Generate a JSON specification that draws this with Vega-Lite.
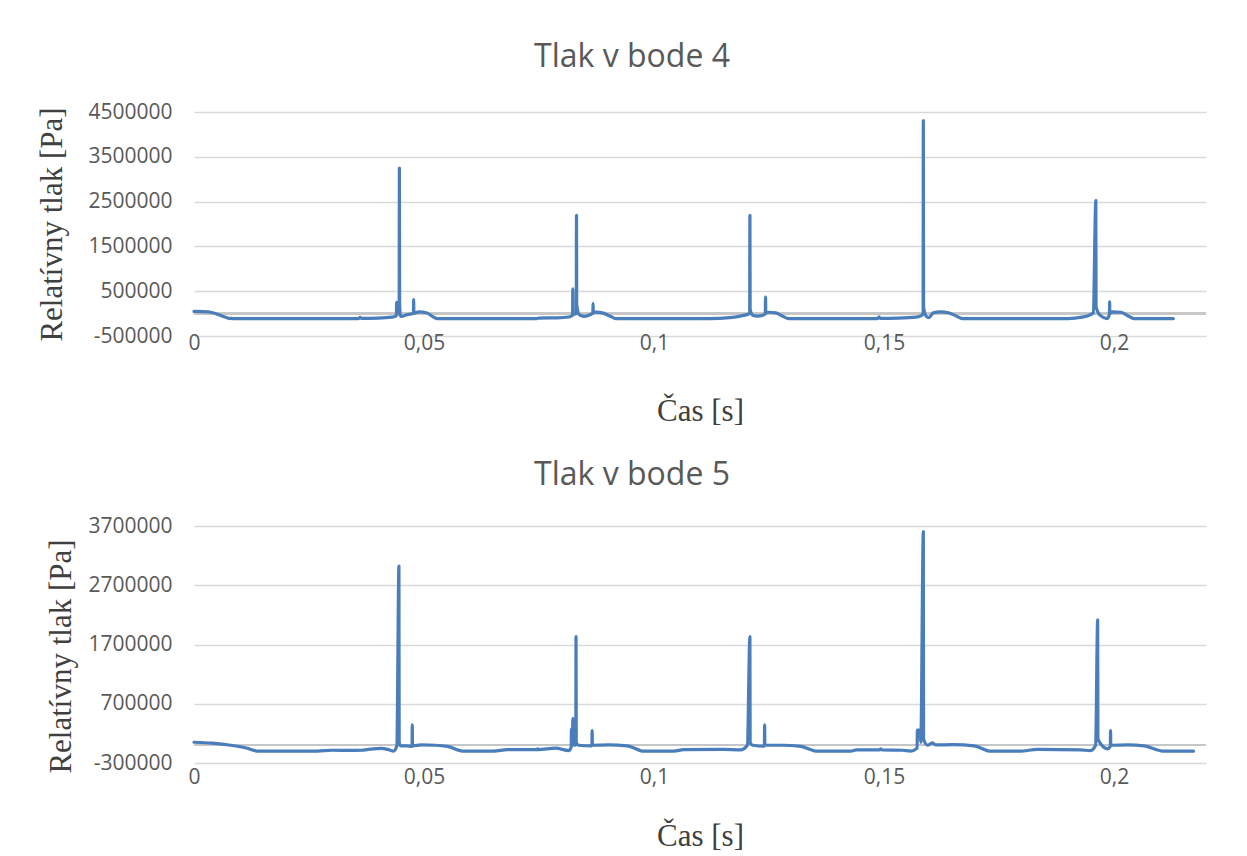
{
  "$schema": "https://vega.github.io/schema/vega-lite/v6.json",
  "background": "white",
  "padding": {"left": 36, "top": 41, "right": 5, "bottom": 5},
  "spacing": 33,
  "config": {
    "view": {"stroke": null},
    "axisX": {"grid": false, "domain": false, "ticks": false, "labelFlush": false, "labelFont": "Open Sans", "labelFontSize": 21, "labelColor": "#595959", "titleFont": "Liberation Serif", "titleFontSize": 31, "titleFontWeight": "normal", "titleColor": "#404040", "titleBaseline": "alphabetic"},
    "axisY": {"grid": true, "gridColor": "#d9d9d9", "gridWidth": 1.5, "domain": false, "ticks": false, "labelFont": "Open Sans", "labelFontSize": 21, "labelColor": "#595959", "labelPadding": 22, "titleFont": "Liberation Serif", "titleFontSize": 31, "titleFontWeight": "normal", "titleColor": "#404040", "titleBaseline": "alphabetic"}
  },
  "datasets": {
    "b4": [
      {"t": 0, "p": 50000}, {"t": 0.002, "p": 45000}, {"t": 0.0039, "p": 25000}, {"t": 0.0058, "p": -40000}, {"t": 0.0076, "p": -105000}, {"t": 0.010, "p": -110000},
      {"t": 0.0358, "p": -110000}, {"t": 0.0361, "p": -85000}, {"t": 0.0364, "p": -105000}, {"t": 0.040, "p": -100000}, {"t": 0.043, "p": -80000}, {"t": 0.0438, "p": -60000},
      {"t": 0.0440, "p": -30000}, {"t": 0.04405, "p": 250000}, {"t": 0.0441, "p": -10000}, {"t": 0.0446, "p": 10000}, {"t": 0.04465, "p": 3250000}, {"t": 0.0447, "p": 200000},
      {"t": 0.0449, "p": -60000}, {"t": 0.0452, "p": -60000}, {"t": 0.0465, "p": -20000}, {"t": 0.0477, "p": 0}, {"t": 0.04775, "p": 310000}, {"t": 0.0478, "p": 10000},
      {"t": 0.0489, "p": 40000}, {"t": 0.0505, "p": 20000}, {"t": 0.0518, "p": -60000}, {"t": 0.0528, "p": -110000},
      {"t": 0.0745, "p": -110000}, {"t": 0.0750, "p": -100000}, {"t": 0.0790, "p": -95000}, {"t": 0.0815, "p": -75000}, {"t": 0.0823, "p": -40000}, {"t": 0.08235, "p": 550000},
      {"t": 0.0824, "p": -20000}, {"t": 0.0831, "p": 0}, {"t": 0.08315, "p": 2195000}, {"t": 0.0832, "p": 200000}, {"t": 0.0838, "p": -30000}, {"t": 0.0848, "p": -60000},
      {"t": 0.0862, "p": -20000}, {"t": 0.0867, "p": 10000}, {"t": 0.08675, "p": 230000}, {"t": 0.0868, "p": 20000}, {"t": 0.0874, "p": 35000}, {"t": 0.0890, "p": 10000},
      {"t": 0.0905, "p": -60000}, {"t": 0.0917, "p": -110000},
      {"t": 0.1120, "p": -110000}, {"t": 0.1165, "p": -90000}, {"t": 0.1195, "p": -40000}, {"t": 0.1203, "p": -20000}, {"t": 0.1208, "p": 10000}, {"t": 0.12085, "p": 2195000},
      {"t": 0.1209, "p": 100000}, {"t": 0.1215, "p": -40000}, {"t": 0.1225, "p": -55000}, {"t": 0.1238, "p": -30000}, {"t": 0.1242, "p": 0}, {"t": 0.12425, "p": 370000},
      {"t": 0.1243, "p": 20000}, {"t": 0.1250, "p": 30000}, {"t": 0.1265, "p": 15000}, {"t": 0.1280, "p": -60000}, {"t": 0.1293, "p": -110000},
      {"t": 0.1486, "p": -110000}, {"t": 0.1489, "p": -75000}, {"t": 0.1492, "p": -105000}, {"t": 0.1530, "p": -100000}, {"t": 0.1570, "p": -80000}, {"t": 0.1582, "p": -40000},
      {"t": 0.1585, "p": 10000}, {"t": 0.15855, "p": 4310000}, {"t": 0.1586, "p": 150000}, {"t": 0.1592, "p": -60000}, {"t": 0.1598, "p": -90000}, {"t": 0.1607, "p": 20000},
      {"t": 0.1623, "p": 40000}, {"t": 0.1640, "p": 20000}, {"t": 0.1658, "p": -60000}, {"t": 0.1670, "p": -110000},
      {"t": 0.1900, "p": -110000}, {"t": 0.1930, "p": -80000}, {"t": 0.1948, "p": -30000}, {"t": 0.1955, "p": 20000}, {"t": 0.19605, "p": 2530000}, {"t": 0.1961, "p": 150000},
      {"t": 0.1970, "p": -40000}, {"t": 0.1985, "p": -110000}, {"t": 0.1990, "p": -20000}, {"t": 0.19905, "p": 260000}, {"t": 0.1991, "p": 10000}, {"t": 0.1997, "p": 40000},
      {"t": 0.2015, "p": 30000}, {"t": 0.2032, "p": -60000}, {"t": 0.2043, "p": -110000}, {"t": 0.2129, "p": -110000}
    ],
    "b5": [
      {"t": 0, "p": 50000}, {"t": 0.004, "p": 35000}, {"t": 0.008, "p": 0}, {"t": 0.0116, "p": -52000}, {"t": 0.0137, "p": -98000}, {"t": 0.0268, "p": -100000},
      {"t": 0.0300, "p": -85000}, {"t": 0.0340, "p": -88000}, {"t": 0.0365, "p": -85000}, {"t": 0.0376, "p": -75000}, {"t": 0.0407, "p": -52000}, {"t": 0.0425, "p": -80000},
      {"t": 0.0434, "p": -98000}, {"t": 0.0441, "p": -10000}, {"t": 0.04455, "p": 3025000}, {"t": 0.0446, "p": 50000}, {"t": 0.0449, "p": -10000}, {"t": 0.0462, "p": -10000},
      {"t": 0.0474, "p": -20000}, {"t": 0.04745, "p": 345000}, {"t": 0.0475, "p": -10000}, {"t": 0.0495, "p": 5000}, {"t": 0.0525, "p": 0}, {"t": 0.0551, "p": -20000},
      {"t": 0.0587, "p": -100000}, {"t": 0.0652, "p": -100000}, {"t": 0.0681, "p": -75000}, {"t": 0.0745, "p": -75000}, {"t": 0.0747, "p": -60000}, {"t": 0.0749, "p": -75000},
      {"t": 0.0786, "p": -50000}, {"t": 0.0815, "p": -90000}, {"t": 0.0820, "p": -30000}, {"t": 0.08205, "p": 273000}, {"t": 0.0823, "p": 273000}, {"t": 0.08235, "p": 453000},
      {"t": 0.0826, "p": 0}, {"t": 0.0830, "p": 10000}, {"t": 0.08305, "p": 1835000}, {"t": 0.0831, "p": 50000}, {"t": 0.0836, "p": 0}, {"t": 0.0864, "p": -10000},
      {"t": 0.0865, "p": 0}, {"t": 0.08655, "p": 245000}, {"t": 0.0866, "p": 0}, {"t": 0.0900, "p": 5000}, {"t": 0.0942, "p": -10000}, {"t": 0.0978, "p": -100000},
      {"t": 0.1043, "p": -100000}, {"t": 0.1065, "p": -75000}, {"t": 0.1150, "p": -70000}, {"t": 0.1188, "p": -80000}, {"t": 0.1203, "p": 0}, {"t": 0.12085, "p": 1835000},
      {"t": 0.1209, "p": 40000}, {"t": 0.1215, "p": 0}, {"t": 0.1240, "p": -15000}, {"t": 0.12405, "p": 345000}, {"t": 0.1241, "p": 0}, {"t": 0.1280, "p": 0},
      {"t": 0.1319, "p": -20000}, {"t": 0.1355, "p": -100000}, {"t": 0.1428, "p": -100000}, {"t": 0.1440, "p": -80000}, {"t": 0.1490, "p": -80000}, {"t": 0.1493, "p": -60000},
      {"t": 0.1496, "p": -80000}, {"t": 0.1540, "p": -85000}, {"t": 0.1558, "p": -100000}, {"t": 0.1572, "p": -50000}, {"t": 0.15725, "p": 256000}, {"t": 0.1578, "p": 256000},
      {"t": 0.1580, "p": 50000}, {"t": 0.15855, "p": 3605000}, {"t": 0.1586, "p": 100000}, {"t": 0.1595, "p": 0}, {"t": 0.1605, "p": 40000}, {"t": 0.1612, "p": 5000},
      {"t": 0.1650, "p": 10000}, {"t": 0.1696, "p": -10000}, {"t": 0.1732, "p": -100000}, {"t": 0.1797, "p": -100000}, {"t": 0.1833, "p": -70000}, {"t": 0.1927, "p": -80000},
      {"t": 0.1949, "p": -90000}, {"t": 0.1960, "p": 0}, {"t": 0.19645, "p": 2115000}, {"t": 0.1965, "p": 100000}, {"t": 0.1986, "p": -60000}, {"t": 0.1992, "p": -20000},
      {"t": 0.19925, "p": 245000}, {"t": 0.1993, "p": 0}, {"t": 0.2030, "p": 5000}, {"t": 0.2065, "p": -10000}, {"t": 0.2109, "p": -100000}, {"t": 0.2173, "p": -100000}
    ]
  },
  "vconcat": [
    {
      "width": 1012,
      "height": 224,
      "title": {"text": "Tlak v bode 4", "font": "Open Sans", "fontSize": 32, "fontWeight": "normal", "color": "#595959", "anchor": "middle", "frame": "group", "dx": -68, "offset": 27},
      "data": {"name": "b4"},
      "layer": [
        {
          "mark": {"type": "rule", "color": "#c6c6c6", "strokeWidth": 1.5},
          "encoding": {"y": {"datum": 0, "type": "quantitative"}}
        },
        {
          "mark": {"type": "line", "color": "#4a7ebb", "strokeWidth": 3.2, "interpolate": "monotone", "strokeJoin": "round", "strokeCap": "round"},
          "encoding": {
            "x": {"field": "t", "type": "quantitative", "scale": {"domain": [0, 0.22], "nice": false, "zero": false},
                  "axis": {"values": [0, 0.05, 0.1, 0.15, 0.2], "labelExpr": "replace('' + datum.value, '.', ',')", "labelPadding": -4, "title": "Čas [s]", "titleY": 84}},
            "y": {"field": "p", "type": "quantitative", "scale": {"domain": [-500000, 4500000], "nice": false, "zero": false},
                  "axis": {"values": [-500000, 500000, 1500000, 2500000, 3500000, 4500000], "labelExpr": "'' + datum.value", "title": "Relatívny tlak [Pa]", "titleX": -133}}
          }
        }
      ]
    },
    {
      "width": 1012,
      "height": 237,
      "title": {"text": "Tlak v bode 5", "font": "Open Sans", "fontSize": 32, "fontWeight": "normal", "color": "#595959", "anchor": "middle", "frame": "group", "dx": -68, "offset": 23},
      "data": {"name": "b5"},
      "layer": [
        {
          "mark": {"type": "rule", "color": "#c6c6c6", "strokeWidth": 1.5},
          "encoding": {"y": {"datum": 0, "type": "quantitative"}}
        },
        {
          "mark": {"type": "line", "color": "#4a7ebb", "strokeWidth": 3.2, "interpolate": "monotone", "strokeJoin": "round", "strokeCap": "round"},
          "encoding": {
            "x": {"field": "t", "type": "quantitative", "scale": {"domain": [0, 0.22], "nice": false, "zero": false},
                  "axis": {"values": [0, 0.05, 0.1, 0.15, 0.2], "labelExpr": "replace('' + datum.value, '.', ',')", "labelPadding": 3, "title": "Čas [s]", "titleY": 82}},
            "y": {"field": "p", "type": "quantitative", "scale": {"domain": [-300000, 3700000], "nice": false, "zero": false},
                  "axis": {"values": [-300000, 700000, 1700000, 2700000, 3700000], "labelExpr": "'' + datum.value", "title": "Relatívny tlak [Pa]", "titleX": -124, "titleY": 130}}
          }
        }
      ]
    }
  ]
}
